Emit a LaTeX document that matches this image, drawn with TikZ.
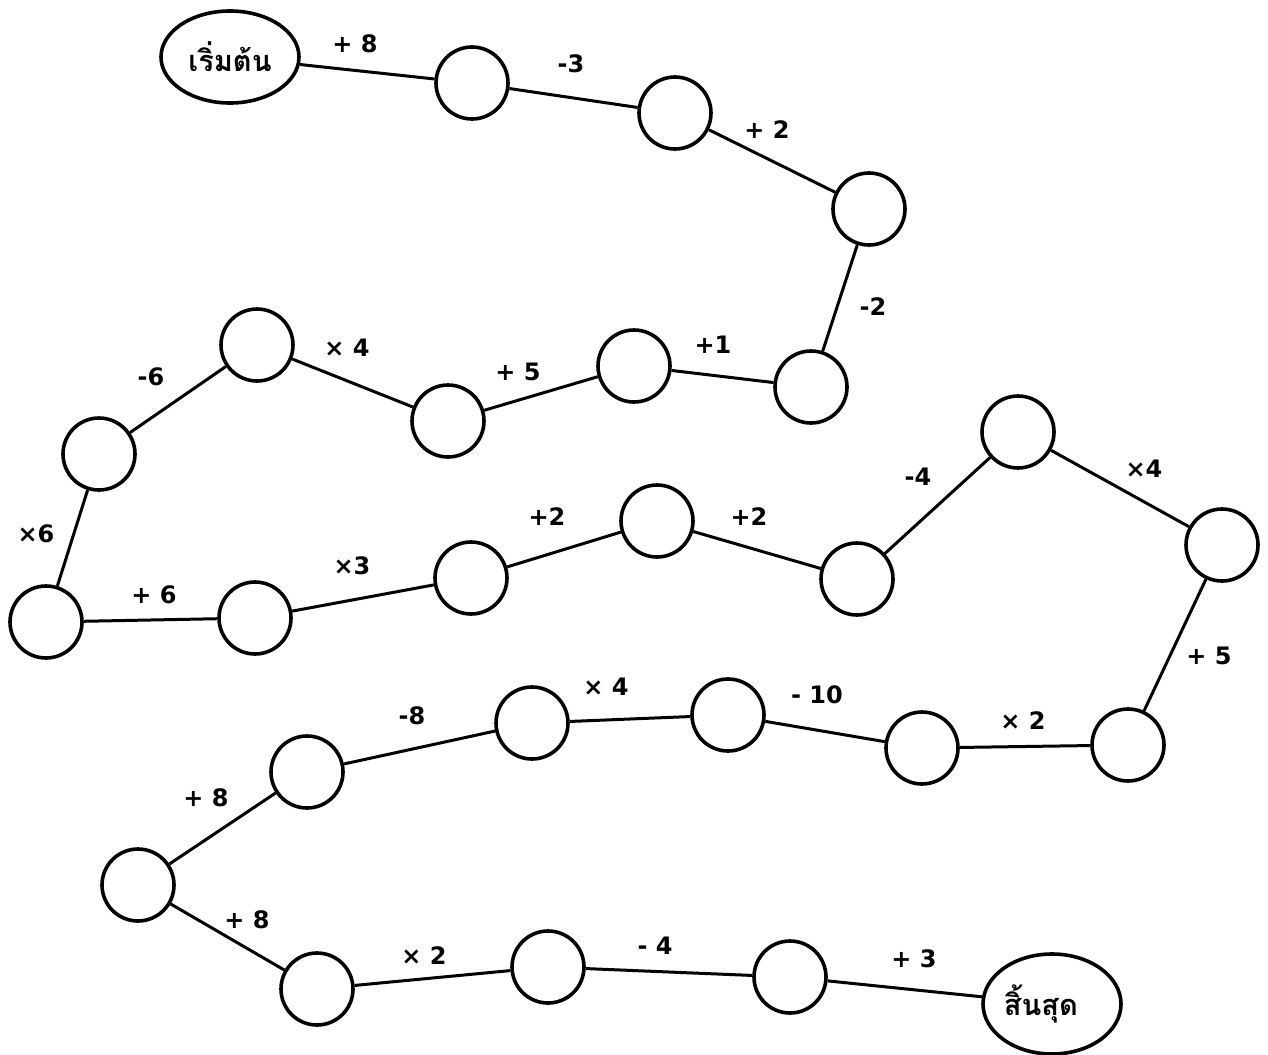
\documentclass[tikz,border=0pt]{standalone}
\usepackage{fontspec}
\setmainfont{DejaVu Sans}
\newfontfamily\thaifont[Script=Thai]{Loma}
\usetikzlibrary{shapes.geometric}
\begin{document}
\begin{tikzpicture}[x=1pt,y=-1pt,
  stn/.style={circle,draw,line width=3.6pt,minimum size=72pt,inner sep=0pt},
  term/.style={ellipse,draw,line width=3.6pt,inner sep=0pt,font=\thaifont\bfseries\fontsize{29}{31}\selectfont},
  conn/.style={line width=3pt},
  lbl/.style={font=\bfseries\fontsize{24}{26}\selectfont}]
\useasboundingbox (0,0) rectangle (1268,1054);
% terminals
\node[term,minimum width=138pt,minimum height=92pt] (start) at (230,57) {เริ่มต้น};
\node[term,minimum width=138pt,minimum height=100pt] (finish) at (1052,1004) {\raisebox{5pt}{\makebox[0pt]{\hspace*{-22pt}สิ้นสุด}}};
% stations
\node[stn] (c1) at (472,83) {};
\node[stn] (c2) at (675,113) {};
\node[stn] (c3) at (869,209) {};
\node[stn] (c4) at (811,387) {};
\node[stn] (c5) at (634,366) {};
\node[stn] (c6) at (448,421) {};
\node[stn] (c7) at (257,345) {};
\node[stn] (c8) at (99,454) {};
\node[stn] (c9) at (46,622) {};
\node[stn] (c10) at (255,618) {};
\node[stn] (c11) at (471,578) {};
\node[stn] (c12) at (657,521) {};
\node[stn] (c13) at (857,579) {};
\node[stn] (c14) at (1018,432) {};
\node[stn] (c15) at (1222,545) {};
\node[stn] (c16) at (1128,745) {};
\node[stn] (c17) at (922,748) {};
\node[stn] (c18) at (728,715) {};
\node[stn] (c19) at (532,723) {};
\node[stn] (c20) at (307,772) {};
\node[stn] (c21) at (138,885) {};
\node[stn] (c22) at (317,989) {};
\node[stn] (c23) at (548,967) {};
\node[stn] (c24) at (790,977) {};
% connectors
\draw[conn] (start) -- (c1);
\draw[conn] (c1) -- (c2);
\draw[conn] (c2) -- (c3);
\draw[conn] (c3) -- (c4);
\draw[conn] (c4) -- (c5);
\draw[conn] (c5) -- (c6);
\draw[conn] (c6) -- (c7);
\draw[conn] (c7) -- (c8);
\draw[conn] (c8) -- (c9);
\draw[conn] (c9) -- (c10);
\draw[conn] (c10) -- (c11);
\draw[conn] (c11) -- (c12);
\draw[conn] (c12) -- (c13);
\draw[conn] (c13) -- (c14);
\draw[conn] (c14) -- (c15);
\draw[conn] (c15) -- (c16);
\draw[conn] (c16) -- (c17);
\draw[conn] (c17) -- (c18);
\draw[conn] (c18) -- (c19);
\draw[conn] (c19) -- (c20);
\draw[conn] (c20) -- (c21);
\draw[conn] (c21) -- (c22);
\draw[conn] (c22) -- (c23);
\draw[conn] (c23) -- (c24);
\draw[conn] (c24) -- (finish);
% labels
\node[lbl] (l1) at (355,44) {+ 8};
\node[lbl] (l2) at (571,64) {-3};
\node[lbl] (l3) at (767,130) {+ 2};
\node[lbl] (l4) at (873,307) {-2};
\node[lbl] (l5) at (713,345) {+1};
\node[lbl] (l6) at (518,372) {+ 5};
\node[lbl] (l7) at (347,348) {× 4};
\node[lbl] (l8) at (151,377) {-6};
\node[lbl] (l9) at (36,534) {×6};
\node[lbl] (l10) at (154,595) {+ 6};
\node[lbl] (l11) at (352,566) {×3};
\node[lbl] (l12) at (547,517) {+2};
\node[lbl] (l13) at (749,517) {+2};
\node[lbl] (l14) at (918,477) {-4};
\node[lbl] (l15) at (1144,469) {×4};
\node[lbl] (l16) at (1209,656) {+ 5};
\node[lbl] (l17) at (1023,721) {× 2};
\node[lbl] (l18) at (817,695) {- 10};
\node[lbl] (l19) at (606,687) {× 4};
\node[lbl] (l20) at (412,716) {-8};
\node[lbl] (l21) at (206,798) {+ 8};
\node[lbl] (l22) at (247,920) {+ 8};
\node[lbl] (l23) at (424,956) {× 2};
\node[lbl] (l24) at (655,946) {- 4};
\node[lbl] (l25) at (914,959) {+ 3};
\end{tikzpicture}
\end{document}
